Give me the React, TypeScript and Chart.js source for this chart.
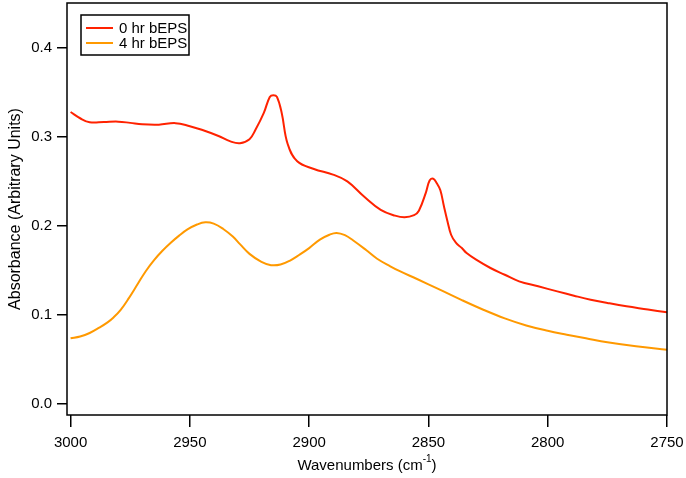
import { useEffect, useRef } from "react"
import { Chart, registerables } from "chart.js"

Chart.register(...registerables)

// 0 hr bEPS spectrum
const hr0Wavenumbers = [
  3000, 2996, 2992, 2986, 2980, 2975, 2970, 2963, 2956, 2950, 2945, 2938, 2933, 2929, 2925, 2922.5, 2919,
  2916.5, 2915, 2913.5, 2911.5, 2909, 2905, 2898, 2890, 2884, 2877, 2870, 2864, 2860, 2856, 2854, 2851,
  2849.5, 2848, 2846.5, 2845, 2843.5, 2842, 2840.5, 2838.5, 2836, 2834, 2830, 2824, 2818, 2812, 2804, 2796,
  2789, 2782, 2775, 2767, 2758, 2750,
]
const hr0Absorbance = [
  0.328, 0.321, 0.3165, 0.3168, 0.3172, 0.3158, 0.3142, 0.3138, 0.3155, 0.312, 0.308, 0.301, 0.295, 0.293,
  0.2975, 0.308, 0.327, 0.345, 0.347, 0.345, 0.327, 0.292, 0.2726, 0.264, 0.2576, 0.25, 0.233, 0.218, 0.2115,
  0.2096, 0.212, 0.217, 0.238, 0.251, 0.253, 0.248, 0.24, 0.222, 0.205, 0.19, 0.181, 0.175, 0.1695, 0.162,
  0.1526, 0.145, 0.1376, 0.132, 0.1263, 0.1215, 0.117, 0.1133, 0.1095, 0.106, 0.1027,
]

// 4 hr bEPS spectrum
const hr4Wavenumbers = [
  3000, 2996, 2992, 2988, 2984.5, 2982, 2979, 2975.5, 2972, 2968.5, 2965, 2961.5, 2958, 2954.5, 2951, 2947,
  2943.5, 2940, 2936, 2932, 2929, 2925, 2920, 2916, 2912, 2908, 2904, 2900, 2895.5, 2891.5, 2888.5, 2885,
  2881.5, 2876, 2871.5, 2866, 2862, 2855, 2845, 2836, 2827, 2818, 2809, 2800, 2792, 2784, 2775, 2763, 2750,
]
const hr4Absorbance = [
  0.0735, 0.0755, 0.0795, 0.0855, 0.0915, 0.097, 0.1055, 0.119, 0.134, 0.149, 0.1615, 0.172, 0.181, 0.189,
  0.196, 0.2015, 0.204, 0.2025, 0.1965, 0.188, 0.1795, 0.1685, 0.1595, 0.1558, 0.1565, 0.161, 0.1676, 0.175,
  0.1845, 0.19, 0.192, 0.1895, 0.1835, 0.1725, 0.163, 0.1545, 0.149, 0.1405, 0.128, 0.1165, 0.1057, 0.096,
  0.088, 0.082, 0.0776, 0.0735, 0.069, 0.0645, 0.0607,
]

const seriesLabels = ["0 hr bEPS", "4 hr bEPS"]
const seriesColors = ["#ff2200", "#ff9900"]
const xTicks = [3000, 2950, 2900, 2850, 2800, 2750]
const yTicks = [0.0, 0.1, 0.2, 0.3, 0.4]

const FONT = "Arial, 'Liberation Sans', Helvetica, sans-serif"

const toPoints = (xs: number[], ys: number[]) => xs.map((x, i) => ({ x, y: ys[i] }))

// frame, legend box and x title with superscript
const decorations = {
  id: "decorations",
  afterDraw(chart: Chart) {
    const { ctx, chartArea } = chart
    ctx.save()
    ctx.strokeStyle = "#000"
    ctx.lineWidth = 1.5
    ctx.strokeRect(chartArea.left, chartArea.top, chartArea.right - chartArea.left, chartArea.bottom - chartArea.top)

    // legend
    ctx.strokeRect(81, 15, 108, 40)
    ctx.font = `15px ${FONT}`
    ctx.textBaseline = "middle"
    ctx.textAlign = "left"
    seriesLabels.forEach((label, i) => {
      const y = 28 + i * 15
      ctx.strokeStyle = seriesColors[i]
      ctx.lineWidth = 2
      ctx.beginPath()
      ctx.moveTo(86, y)
      ctx.lineTo(113, y)
      ctx.stroke()
      ctx.fillStyle = "#000"
      ctx.fillText(label, 119, y + 0.5)
    })

    // x axis title
    const main = "Wavenumbers (cm"
    const sup = "-1"
    const end = ")"
    ctx.font = `15px ${FONT}`
    const wMain = ctx.measureText(main).width
    const wEnd = ctx.measureText(end).width
    ctx.font = `10px ${FONT}`
    const wSup = ctx.measureText(sup).width
    const cx = (chartArea.left + chartArea.right) / 2
    let x = cx - (wMain + wSup + wEnd) / 2
    const base = 470
    ctx.textBaseline = "alphabetic"
    ctx.fillStyle = "#000"
    ctx.font = `15px ${FONT}`
    ctx.fillText(main, x, base)
    x += wMain
    ctx.font = `10px ${FONT}`
    ctx.fillText(sup, x, base - 8)
    x += wSup
    ctx.font = `15px ${FONT}`
    ctx.fillText(end, x, base)
    ctx.restore()
  },
}

export default function App() {
  const chartRef = useRef<HTMLCanvasElement>(null)
  const chartInstance = useRef<Chart | null>(null)

  useEffect(() => {
    document.body.style.margin = "0"
    if (!chartRef.current) return
    if (chartInstance.current) chartInstance.current.destroy()
    const ctx = chartRef.current.getContext("2d")
    if (!ctx) return

    chartInstance.current = new Chart(ctx, {
      type: "scatter",
      data: {
        datasets: [
          {
            label: seriesLabels[0],
            data: toPoints(hr0Wavenumbers, hr0Absorbance),
            borderColor: seriesColors[0],
            backgroundColor: seriesColors[0],
          },
          {
            label: seriesLabels[1],
            data: toPoints(hr4Wavenumbers, hr4Absorbance),
            borderColor: seriesColors[1],
            backgroundColor: seriesColors[1],
          },
        ],
      },
      options: {
        animation: false,
        responsive: true,
        maintainAspectRatio: false,
        datasets: {
          scatter: {
            showLine: true,
            pointRadius: 0,
            borderWidth: 2,
            tension: 0.4,
          },
        },
        layout: { padding: { top: 3, right: 19, left: 0, bottom: 0 } },
        plugins: {
          legend: { display: false },
          tooltip: { enabled: false },
        },
        scales: {
          x: {
            type: "linear",
            reverse: true,
            min: 2750,
            max: 3001.5,
            afterBuildTicks: (scale) => {
              scale.ticks = xTicks.map((value) => ({ value }))
            },
            afterFit: (scale) => {
              scale.height = 63
              scale.paddingLeft = 0
              scale.paddingRight = 0
            },
            border: { display: false },
            grid: { drawOnChartArea: false, tickLength: 12, color: "#000", lineWidth: 1.5 },
            ticks: {
              color: "#000",
              font: { family: FONT, size: 15 },
              padding: 7,
              maxRotation: 0,
              callback: (v) => String(v),
            },
          },
          y: {
            type: "linear",
            min: -0.0127,
            max: 0.4506,
            afterBuildTicks: (scale) => {
              scale.ticks = yTicks.map((value) => ({ value }))
            },
            afterFit: (scale) => {
              scale.width = 67
              scale.paddingTop = 0
              scale.paddingBottom = 0
            },
            border: { display: false },
            grid: { drawOnChartArea: false, tickLength: 10, color: "#000", lineWidth: 1.5 },
            ticks: {
              color: "#000",
              font: { family: FONT, size: 15 },
              padding: 5,
              callback: (v) => Number(v).toFixed(1),
            },
            title: {
              display: true,
              text: "Absorbance (Arbitrary Units)",
              color: "#000",
              font: { family: FONT, size: 16 },
              padding: { top: 6, bottom: 0 },
            },
          },
        },
      },
      plugins: [decorations],
    })

    return () => {
      if (chartInstance.current) {
        chartInstance.current.destroy()
        chartInstance.current = null
      }
    }
  }, [])

  return (
    <div style={{ width: 686, height: 478, position: "relative" }}>
      <canvas ref={chartRef} />
    </div>
  )
}
